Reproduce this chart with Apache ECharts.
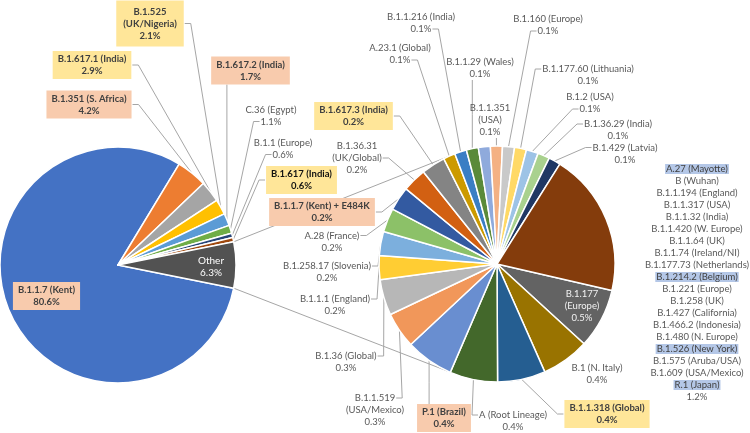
<!DOCTYPE html>
<html>
<head>
<meta charset="utf-8">
<script src="https://cdn.jsdelivr.net/npm/echarts@6/dist/echarts.min.js"></script>
<style>
  html, body { margin: 0; padding: 0; background: #fff; }
  #chart { width: 750px; height: 433px; }
</style>
</head>
<body>
<div id="chart"></div>
<script>
// left pie
const mainNames = ['B.1.1.7 (Kent)', 'B.1.351 (S. Africa)', 'B.1.617.1 (India)', 'B.1.525 (UK/Nigeria)',
  'B.1.617.2 (India)', 'C.36 (Egypt)', 'B.1.1 (Europe)', 'B.1.617 (India)', 'Other']
const mainValues = [80.6, 4.2, 2.9, 2.1, 1.7, 1.1, 0.6, 0.6, 6.3]

// right pie = breakdown of "Other"
const subNames = ['B.1.177 (Europe)', 'B.1 (N. Italy)', 'B.1.1.318 (Global)', 'A (Root Lineage)', 'P.1 (Brazil)',
  'B.1.1.519 (USA/Mexico)', 'B.1.36 (Global)', 'B.1.1.1 (England)', 'B.1.258.17 (Slovenia)', 'A.28 (France)',
  'B.1.1.7 (Kent) + E484K', 'B.1.36.31 (UK/Global)', 'B.1.617.3 (India)', 'A.23.1 (Global)', 'B.1.1.216 (India)',
  'B.1.1.29 (Wales)', '', 'B.1.1.351 (USA)', 'B.1.160 (Europe)', 'B.1.177.60 (Lithuania)', 'B.1.2 (USA)',
  'B.1.36.29 (India)', 'B.1.429 (Latvia)', 'rest']
const subValues = [0.5, 0.4, 0.4, 0.4, 0.4, 0.3, 0.3, 0.2, 0.2, 0.2, 0.2, 0.2, 0.2, 0.1, 0.1, 0.1, 0.1, 0.1, 0.1,
  0.1, 0.1, 0.1, 0.1, 1.2]

// lineages lumped in the last slice of the right pie
const restNames = ['A.27 (Mayotte)', 'B (Wuhan)', 'B.1.1.194 (England)', 'B.1.1.317 (USA)', 'B.1.1.32 (India)',
  'B.1.1.420 (W. Europe)', 'B.1.1.64 (UK)', 'B.1.1.74 (Ireland/NI)', 'B.1.177.73 (Netherlands)',
  'B.1.214.2 (Belgium)', 'B.1.221 (Europe)', 'B.1.258 (UK)', 'B.1.427 (California)', 'B.1.466.2 (Indonesia)',
  'B.1.480 (N. Europe)', 'B.1.526 (New York)', 'B.1.575 (Aruba/USA)', 'B.1.609 (USA/Mexico)', 'R.1 (Japan)']
const restHighlight = ['A.27 (Mayotte)', 'B.1.214.2 (Belgium)', 'B.1.526 (New York)', 'R.1 (Japan)']

// label styling groups
const yellowBox = ['B.1.525 (UK/Nigeria)', 'B.1.617.1 (India)', 'B.1.617 (India)', 'B.1.617.3 (India)', 'B.1.1.318 (Global)']
const salmonBox = ['B.1.1.7 (Kent)', 'B.1.351 (S. Africa)', 'B.1.617.2 (India)', 'B.1.1.7 (Kent) + E484K', 'P.1 (Brazil)']
const wrapNames = ['B.1.525 (UK/Nigeria)', 'B.1.177 (Europe)', 'B.1.1.519 (USA/Mexico)', 'B.1.36.31 (UK/Global)', 'B.1.1.351 (USA)']
const insideNames = ['B.1.1.7 (Kent)', 'Other', 'B.1.177 (Europe)']
const noLine = ['B.1 (N. Italy)', 'rest', '']

const mainColors = ['#4472C4', '#ED7D31', '#A5A5A5', '#FFC000', '#5B9BD5', '#70AD47', '#264478', '#9E480E', '#525252']
const subColors = ['#636363', '#997300', '#255E91', '#43682B', '#698ED0', '#F1975A', '#B7B7B7', '#FFCD33', '#7CAFDD',
  '#8CC168', '#335AA1', '#D26012', '#848484', '#CC9A00', '#3A7EC4', '#5A8A39', '#8FAADC', '#F4B183', '#C9C9C9',
  '#FFD966', '#9DC3E6', '#A9D18E', '#203864', '#843C0C']

// label centres (px)
const mainPos = {
  'B.1.1.7 (Kent)': [46.5, 296], 'B.1.351 (S. Africa)': [89, 104.5], 'B.1.617.1 (India)': [92, 65],
  'B.1.525 (UK/Nigeria)': [150, 23.5], 'B.1.617.2 (India)': [250.5, 70.5], 'C.36 (Egypt)': [271, 115.5],
  'B.1.1 (Europe)': [283, 148.5], 'B.1.617 (India)': [301.5, 180], 'Other': [211, 267]
}
const subPos = {
  'B.1.177 (Europe)': [582, 306], 'B.1 (N. Italy)': [597, 373.5], 'B.1.1.318 (Global)': [607, 414],
  'A (Root Lineage)': [513, 421], 'P.1 (Brazil)': [444, 418], 'B.1.1.519 (USA/Mexico)': [375, 410],
  'B.1.36 (Global)': [346, 362], 'B.1.1.1 (England)': [335, 305], 'B.1.258.17 (Slovenia)': [327, 272],
  'A.28 (France)': [332, 241.5], 'B.1.1.7 (Kent) + E484K': [322, 212], 'B.1.36.31 (UK/Global)': [357, 158],
  'B.1.617.3 (India)': [353.5, 116], 'A.23.1 (Global)': [400, 54], 'B.1.1.216 (India)': [421, 23],
  'B.1.1.29 (Wales)': [480, 68], 'B.1.1.351 (USA)': [490, 120], 'B.1.160 (Europe)': [548, 25],
  'B.1.177.60 (Lithuania)': [588, 75], 'B.1.2 (USA)': [590, 103], 'B.1.36.29 (India)': [618, 130],
  'B.1.429 (Latvia)': [625, 153.5], 'rest': [697, 283]
}

const FONT = 'Lato'
const FS = 9.5
const LH = 12
const mainCenter = [118, 265]
const subCenter = [497, 264]
const R = 118
const deg = Math.PI / 180

const ctx = document.createElement('canvas').getContext('2d')
const textWidth = (s, bold) => {
  ctx.font = (bold ? 'bold ' : '') + FS + 'px ' + FONT
  return ctx.measureText(s).width
}
const isBoxed = name => yellowBox.includes(name) || salmonBox.includes(name)

const labelLines = (name, value) => {
  const pct = value.toFixed(1) + '%'
  if (name === 'rest') return restNames.concat([pct])
  if (wrapNames.includes(name)) {
    const i = name.indexOf(' ')
    return [name.slice(0, i), name.slice(i + 1), pct]
  }
  return [name, pct]
}

const formatter = names => p => {
  const name = names[p.dataIndex]
  const lines = labelLines(name, p.value)
  if (name === 'rest') return lines.map(s => restHighlight.includes(s) ? '{hl|' + s + '}' : s).join('\n')
  return lines.join('\n')
}

// place each label and draw an Excel-like leader line
const makeLayout = (names, values, posMap) => p => {
  const name = names[p.dataIndex]
  const pos = posMap[name]
  if (!pos) return {}
  const out = { x: pos[0], y: pos[1], align: 'center', verticalAlign: 'middle' }
  const pts = p.labelLinePoints
  if (!pts || noLine.includes(name)) return out
  const a = pts[0]
  const w = p.labelRect.width
  const h = p.labelRect.height
  const top = pos[1] - h / 2
  let segs
  if (isBoxed(name)) {
    segs = [{ y: pos[1], half: w / 2, y0: top, y1: top + h }]
  } else {
    segs = labelLines(name, values[p.dataIndex]).map((s, i) => ({
      y: top + LH * (i + 0.5), half: textWidth(s) / 2, y0: top + LH * i, y1: top + LH * (i + 1)
    }))
  }
  const below = a[1] > pos[1]
  const near = below ? segs[segs.length - 1] : segs[0]
  if (Math.abs(a[0] - pos[0]) <= near.half) {
    const ey = below ? near.y1 : near.y0
    out.labelLinePoints = [a, [a[0], (a[1] + ey) / 2], [a[0], ey]]
  } else {
    const side = a[0] > pos[0] ? 1 : -1
    let best = null
    let bd = Infinity
    segs.forEach(s => {
      const ex = pos[0] + side * (s.half + 1)
      const d = Math.hypot(a[0] - ex, a[1] - s.y)
      if (d < bd) { bd = d; best = [ex, s.y] }
    })
    out.labelLinePoints = [a, [best[0] + side * 6, best[1]], best]
  }
  return out
}

const buildData = (names, values, colors) => names.map((name, i) => {
  const label = {}
  if (isBoxed(name)) {
    label.backgroundColor = yellowBox.includes(name) ? '#FFE699' : '#F8CBAD'
    label.padding = name === 'B.1.525 (UK/Nigeria)' ? [5, 7] : [2, 5]
    label.fontWeight = 'bold'
    label.color = name === 'B.1.617 (India)' ? '#111' : '#404040'
  }
  if (insideNames.includes(name)) label.position = 'inside'
  if (name === 'Other') { label.color = '#fff'; label.fontSize = 10 }
  if (name === 'B.1.177 (Europe)') label.color = '#f2f2f2'
  if (name === '') label.show = false
  const item = { name: name, value: values[i], itemStyle: { color: colors[i] }, label: label }
  if (insideNames.includes(name) || noLine.includes(name)) item.labelLine = { show: false }
  return item
})

const sum = arr => arr.reduce((s, v) => s + v, 0)
const otherHalf = mainValues[mainValues.length - 1] / sum(mainValues) * 180
const joinAngle = 115
const polar = (c, ang) => [c[0] + R * Math.cos(ang * deg), c[1] - R * Math.sin(ang * deg)]
const t1 = polar(mainCenter, otherHalf), t2 = polar(subCenter, joinAngle)
const b1 = polar(mainCenter, -otherHalf), b2 = polar(subCenter, -joinAngle)

const labelBase = {
  fontFamily: FONT, fontSize: FS, lineHeight: LH, color: '#595959',
  rich: { hl: { backgroundColor: '#B4C7E7', color: '#404040', fontFamily: FONT, fontSize: FS, lineHeight: LH, padding: [0, 1] } }
}
const lineBase = { show: true, lineStyle: { color: '#A6A6A6', width: 1 } }

const chart = echarts.init(document.getElementById('chart'))
chart.setOption({
  animation: false,
  backgroundColor: '#fff',
  graphic: [
    { type: 'line', z: 0, shape: { x1: t1[0], y1: t1[1], x2: t2[0], y2: t2[1] }, style: { stroke: '#A6A6A6', lineWidth: 1 } },
    { type: 'line', z: 0, shape: { x1: b1[0], y1: b1[1], x2: b2[0], y2: b2[1] }, style: { stroke: '#A6A6A6', lineWidth: 1 } }
  ],
  series: [
    {
      type: 'pie',
      center: mainCenter,
      radius: R,
      startAngle: -otherHalf,
      clockwise: true,
      avoidLabelOverlap: false,
      itemStyle: { borderColor: '#fff', borderWidth: 1.5 },
      label: Object.assign({ formatter: formatter(mainNames) }, labelBase),
      labelLine: lineBase,
      labelLayout: makeLayout(mainNames, mainValues, mainPos),
      emphasis: { disabled: true },
      data: buildData(mainNames, mainValues, mainColors)
    },
    {
      type: 'pie',
      center: subCenter,
      radius: R,
      startAngle: -13,
      clockwise: true,
      avoidLabelOverlap: false,
      itemStyle: { borderColor: '#fff', borderWidth: 1.5 },
      label: Object.assign({ formatter: formatter(subNames) }, labelBase),
      labelLine: lineBase,
      labelLayout: makeLayout(subNames, subValues, subPos),
      emphasis: { disabled: true },
      data: buildData(subNames, subValues, subColors)
    }
  ]
})
</script>
</body>
</html>
